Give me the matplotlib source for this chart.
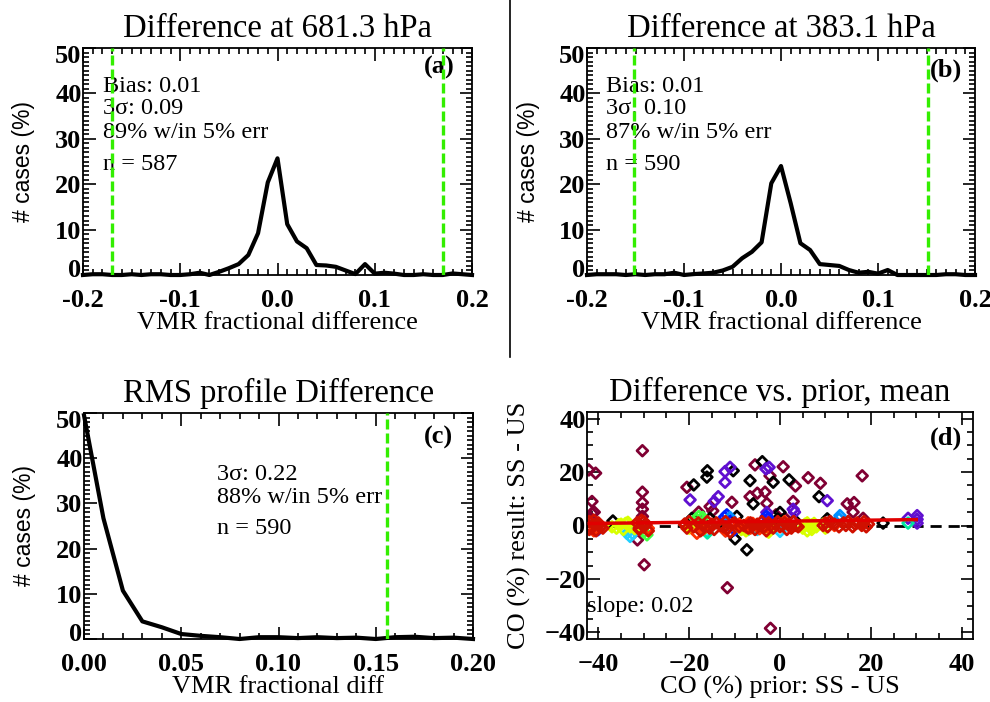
import numpy as np
import matplotlib
matplotlib.use('Agg')
import matplotlib.pyplot as plt
from matplotlib.lines import Line2D
from matplotlib.ticker import MultipleLocator, FormatStrFormatter
from matplotlib.transforms import ScaledTranslation

plt.rcParams['font.family'] = ['Liberation Serif', 'DejaVu Serif']

# histogram bins (fractional difference)
bins_ab = np.round(np.arange(-0.20, 0.2001, 0.01), 2)
hist_a = [0, 0.17, 0.17, 0, 0, 0.17, 0, 0.17, 0.17, 0, 0, 0.17, 0.5, 0, 0.7, 1.5, 2.4,
          4.4, 9.2, 20.4, 25.7, 11.2, 7.4, 5.9, 2.2, 2.1, 1.8, 1.0, 0.2, 2.4, 0.3, 0.5,
          0.3, 0, 0, 0.17, 0, 0, 0.34, 0.17, 0]
hist_b = [0, 0.17, 0.17, 0.17, 0, 0.17, 0, 0.17, 0.17, 0.5, 0, 0.2, 0.34, 0.5, 1.0, 1.8,
          3.7, 5.1, 7.2, 20.2, 24.0, 15.8, 7.0, 5.5, 2.4, 2.2, 2.0, 1.1, 0.5, 0.7, 0.3,
          1.1, 0, 0, 0, 0, 0, 0.17, 0.17, 0, 0]

bins_c = np.round(np.arange(0.0, 0.2001, 0.01), 2)
hist_c = [49.5, 26.7, 10.7, 3.9, 2.6, 1.1, 0.7, 0.4, 0, 0.4, 0.4, 0.2, 0.4, 0.2, 0.3, 0,
          0.4, 0.5, 0.2, 0.3, 0]

lim_a = 0.17
lim_b = 0.152
lim_c = 0.156

# scatter: prior difference vs result difference (%)
maroon_x = [-42.1, -40.6, -41.4, -40.9, -41.4, -41.8, -30.3, -30.3, -30.3, -30.3, -30.3,
            -31.4, -29.9, -20.5, -17.9, -15.4, -10.6, -11.6, -5.5, -6.6, -5.0, -3.3, -2.9,
            -2.2, 0.7, -2.1, -0.9, 3.4, 2.9, 6.2, 8.9, 14.8, 16.3, 16.1, 18.1, 18.3, 1.1,
            -14.8, -12.0, 11.0]
maroon_y = [20.8, 19.6, 9.0, 5.0, 4.6, 3.0, 28.0, 12.5, 8.6, 6.1, 3.4, -5.4, -14.7, 14.3,
            5.0, 7.1, 8.7, -23.3, 22.7, 10.8, 12.1, 12.5, 8.3, 18.6, 22.0, -38.5, 4.0, 14.8,
            9.0, 17.9, 15.8, 8.1, 8.6, 5.0, 18.6, 2.7, 2.7, 5.5, -2.0, 1.5]
black_x = [-36.8, -19.0, -16.0, -16.1, -10.3, -9.5, -9.9, -7.3, -6.6, -5.9, -3.9, -1.5, 0.0,
           2.0, 8.6, 22.7, -19.4, -15.4, 10.4, 3.2, -0.5]
black_y = [1.7, 15.2, 20.5, 18.1, 20.5, 3.4, -5.0, -9.1, 16.8, 8.1, 23.9, 16.2, 4.9, 17.1,
           10.8, 0.9, 2.7, 2.7, 2.5, 2.0, 2.5]
purple_x = [-19.8, -12.1, -11.0, -12.1, -14.5, -13.6, -3.1, -2.4, -2.9, 2.9, 10.4, 28.2,
            30.2, 30.2, 30.2, 3.2]
purple_y = [9.6, 20.2, 21.8, 16.2, 9.0, 10.8, 21.2, 21.8, 4.9, 6.1, 9.3, 2.7, 3.7, 0.9,
            2.3, 5.0]
blue_x = [-41.0, -40.1, -11.7, -12.2, -2.6, -10.0, -3.0]
blue_y = [0.5, -1.6, 4.0, 3.2, 2.7, -1.6, 3.5]
ltblue_x = [13.2, 13.0, -11.0]
ltblue_y = [3.7, 2.5, 3.0]
cyan_x = [-33.7, -33.0, -32.5, -16.1, 0.0, -5.0]
cyan_y = [-2.9, -4.1, -3.0, -2.2, -2.2, -1.5]
aqua_x = [28.2, -16.0, -7.0]
aqua_y = [0.9, -2.8, -1.5]
green_x = [-29.3, -30.0, -17.9, -18.5, -17.0, -16.5]
green_y = [-3.5, -2.5, 3.4, 2.5, 3.0, -1.0]
yellow_x = [-37, -36, -35, -34.5, -34, -33, -32, -33.5, -35.5, -8.5, -8, -7.5, -2.5, -2, 5,
            5.5, 6, 6.5, 7, 7.5, 8, 6, 7, -20, -19.5, 9.5, 10]
yellow_y = [-0.5, -1, 0.5, -1.5, 0.8, -0.5, -1.2, 1.2, 0.3, -1.5, -1, -2, -2.5, -1.5, -1,
            0.5, -2, 0, -1.5, 0.8, -0.5, 1, 0.2, -1, -0.5, 0.5, -1]
orange_x = [-18.3, -17, -9, -7.5, -7, -6.5, -6, -5, -4.5, -41, -40.5, -29, -21, -12, -3, 1, 12]
orange_y = [-2.9, -1.5, 0.5, -0.5, 1, -1, 0.8, 0, -1.2, -2, -1, -1, 0.5, -2, -0.5, 1.5, 0]
red_x = [-42, -41.5, -41, -40.5, -40, -39.5, -42, -41, -40, -39,
         -31.5, -31, -30.5, -30, -29.5, -29, -31, -30, -29.8,
         -21, -20.5, -20, -19, -18, -17.5, -17, -16, -15.5, -15, -14.5, -14, -13, -12.5, -12,
         -11.5, -11, -10.5, -10, -9, -8,
         -7, -6.5, -6, -5.5, -5, -4, -3.5, -3, -2.5, -2, -1.5, -1, -0.5, 0, 0.5, 1, 1.5, 2,
         2.5, 3, 3.5, 4,
         9.5, 10, 10.5, 11, 12, 13, 14, 14.5, 15, 16, 16.5, 17, 18, 18.5, 19, 19.5]
red_y = [1.5, -1, 0.5, -2, 1, -0.5, -1.5, 2, 0, -1,
         1, -1.5, 2, -0.5, 0.5, -2, -1, 1.5, 0,
         0.5, -1, 1.5, -0.5, 1, -2, 0, 1.5, -1, 0.5, -1.5, 1, 0, -0.5, 1.5, -1, -2.5, 0.5, 1,
         -0.5, 0,
         -1, 1, 0, -1.5, 0.5, 1.5, -0.5, -2, 1, 0, -1, 0.5, 1.5, -0.5, 0, 1, -1.5, 0.5, -1,
         1.5, 0, -0.5,
         0, 1, -0.5, 1.5, 0.5, -0.5, 1, 0, 1.5, -0.5, 0.5, 1, 0, 1.5, -0.5, 0.5]
slope = 0.02
intercept = 1.6
fit_x = [-42, 30]

groups = [(maroon_x, maroon_y, '#800033'), (black_x, black_y, 'black'),
          (purple_x, purple_y, '#6010d0'), (blue_x, blue_y, '#0020ff'),
          (ltblue_x, ltblue_y, '#0090ff'), (cyan_x, cyan_y, '#20d0ff'),
          (aqua_x, aqua_y, '#00e8a0'), (green_x, green_y, '#40ff40'),
          (yellow_x, yellow_y, '#d8ff00'), (orange_x, orange_y, '#ff3000'),
          (red_x, red_y, '#d01000')]

GREEN = '#33ee00'
W, H = 990, 702
fig = plt.figure(figsize=(W / 100, H / 100), dpi=100)


def box(l, t, r, b):
    return [l / W, 1 - b / H, (r - l) / W, (b - t) / H]


def style(ax, xmaj, xmin, ymaj, ymin):
    ax.xaxis.set_major_locator(MultipleLocator(xmaj))
    ax.xaxis.set_minor_locator(MultipleLocator(xmin))
    ax.yaxis.set_major_locator(MultipleLocator(ymaj))
    ax.yaxis.set_minor_locator(MultipleLocator(ymin))
    ax.tick_params(which='both', direction='in', top=True, right=True, width=1.2)
    ax.tick_params(which='major', length=9)
    ax.tick_params(which='minor', length=4.5)
    ax.tick_params(axis='x', labelsize=19, pad=10)
    ax.tick_params(axis='y', labelsize=19, pad=1)
    for lab in ax.get_xticklabels() + ax.get_yticklabels():
        lab.set_fontweight('bold')
    for s in ax.spines.values():
        s.set_linewidth(1.3)
    # IDL-like nudge of the end labels on the y axis
    lo, hi = ax.get_ylim()
    locs = ax.yaxis.get_majorticklocs()
    for t, loc in zip(ax.yaxis.get_major_ticks(len(locs)), locs):
        dy = 0
        if abs(loc - lo) < 1e-6:
            dy = 5
        elif abs(loc - hi) < 1e-6:
            dy = -4
        if dy:
            t.label1.set_transform(t.label1.get_transform() +
                                   ScaledTranslation(0, dy / 72, fig.dpi_scale_trans))


def hist_panel(rect, x, y, lim, xr, title, xlabel, letter, lines, txt_x):
    ax = fig.add_axes(rect)
    ax.plot(x, y, color='black', lw=3, clip_on=False, zorder=3)
    for v in lim:
        ax.axvline(v, color=GREEN, lw=2.4, ls=(0, (3, 1.2)), zorder=4)
    ax.set_xlim(*xr)
    ax.set_ylim(0, 50)
    ax.set_title(title, fontsize=23.5, pad=8)
    ax.set_xlabel(xlabel, fontsize=19, labelpad=0)
    ax.text(-0.152, 0.5, '# cases (%)', transform=ax.transAxes, rotation=90,
            ha='center', va='center', fontsize=16.5, family='Liberation Sans')
    ax.text(letter[0], letter[1], letter[2], transform=ax.transAxes, ha='right',
            va='center', fontsize=19, fontweight='bold')
    for s, yy in lines:
        ax.text(txt_x, yy, s, transform=ax.transAxes, fontsize=17.5, va='baseline')
    return ax


ax_a = hist_panel(box(83, 48, 472, 275), bins_ab, hist_a, [-lim_a, lim_a], (-0.2, 0.2),
                  'Difference at 681.3 hPa', 'VMR fractional difference',
                  (0.956, 0.915, '(a)'),
                  [('Bias: 0.01', 0.806), ('3σ: 0.09', 0.709),
                   ('89% w/in 5% err', 0.604), ('n = 587', 0.463)], 0.051)
style(ax_a, 0.1, 0.01, 10, 1)
ax_a.xaxis.set_major_formatter(FormatStrFormatter('%.1f'))

ax_b = hist_panel(box(587, 48, 975, 275), bins_ab, hist_b, [-lim_b, lim_b], (-0.2, 0.2),
                  'Difference at 383.1 hPa', 'VMR fractional difference',
                  (0.966, 0.903, '(b)'),
                  [('Bias: 0.01', 0.806), ('3σ: 0.10', 0.709),
                   ('87% w/in 5% err', 0.604), ('n = 590', 0.463)], 0.049)
style(ax_b, 0.1, 0.01, 10, 1)
ax_b.xaxis.set_major_formatter(FormatStrFormatter('%.1f'))

ax_c = hist_panel(box(84, 413, 473, 639), bins_c, hist_c, [lim_c], (0, 0.2),
                  'RMS profile Difference', 'VMR fractional diff',
                  (0.949, 0.894, '(c)'),
                  [('3σ: 0.22', 0.704), ('88% w/in 5% err', 0.602),
                   ('n = 590', 0.465)], 0.342)
style(ax_c, 0.05, 0.01, 10, 1)
ax_c.xaxis.set_major_formatter(FormatStrFormatter('%.2f'))

# panel (d)
ax_d = fig.add_axes(box(587, 412, 973, 639))
ax_d.axhline(0, color='black', lw=2, ls=(0, (4, 2.5)), zorder=1)
for gx, gy, c in groups:
    ax_d.scatter(gx, gy, marker='D', s=30, facecolors='none', edgecolors=c,
                 linewidths=2.0, zorder=2)
fx = np.array(fit_x)
ax_d.plot(fx, slope * fx + intercept, color='#e00000', lw=2.5, zorder=3)
ax_d.set_xlim(-42.5, 42.5)
ax_d.set_ylim(-42.5, 42.5)
ax_d.set_title('Difference vs. prior, mean', fontsize=23.5, pad=8)
ax_d.set_xlabel('CO (%) prior: SS - US', fontsize=19, labelpad=0)
ax_d.text(-0.174, 0.5, 'CO (%) result: SS - US', transform=ax_d.transAxes, rotation=90,
          ha='center', va='center', fontsize=19)
ax_d.text(0.971, 0.885, '(d)', transform=ax_d.transAxes, ha='right', va='center',
          fontsize=19, fontweight='bold')
ax_d.text(0.0, 0.119, 'slope: 0.02', transform=ax_d.transAxes, fontsize=17.5,
          va='baseline')
style(ax_d, 20, 5, 20, 5)

fig.add_artist(Line2D([510 / W, 510 / W], [1 - 357 / H, 1], color='black', lw=1.2))

fig.savefig('out.png', dpi=100)
